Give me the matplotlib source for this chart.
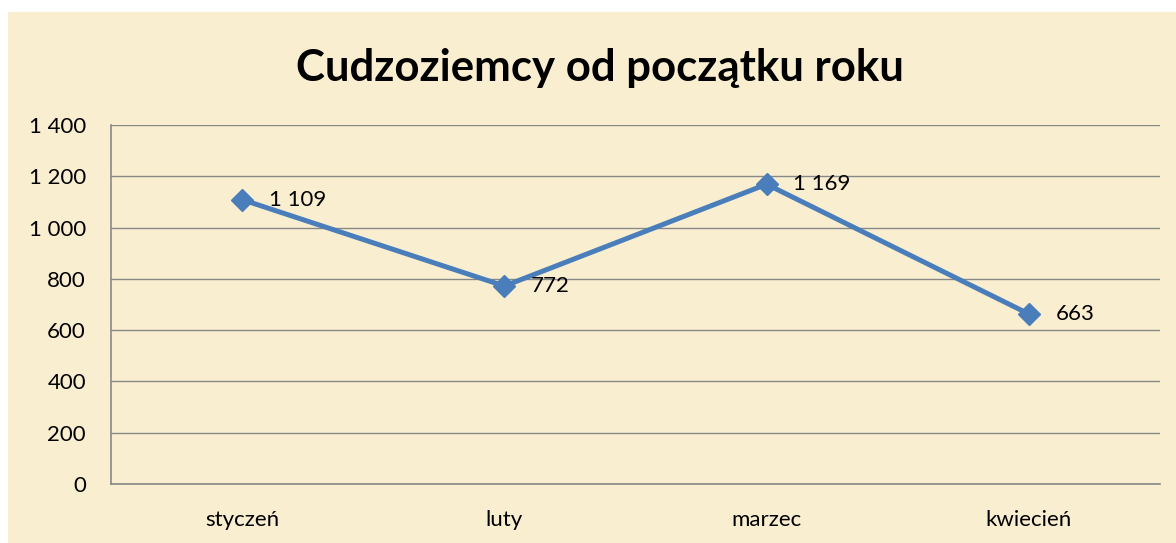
import matplotlib
matplotlib.use("Agg")
import matplotlib.pyplot as plt
from matplotlib.patches import Rectangle

months = ["styczeń", "luty", "marzec", "kwiecień"]
values = [1109, 772, 1169, 663]
yticks = [0, 200, 400, 600, 800, 1000, 1200, 1400]
title = "Cudzoziemcy od początku roku"

def fmt(v):
    return f"{v:,}".replace(",", " ")

plt.rcParams['font.family'] = ['Lato', 'DejaVu Sans']

W, H = 1176, 543
fig = plt.figure(figsize=(W / 100, H / 100), dpi=100, facecolor="white")
bg = "#FAEED1"
fig.patches.append(Rectangle((8 / W, 0), 1 - 8 / W, 1 - 12 / H, transform=fig.transFigure,
                             facecolor=bg, edgecolor="none", zorder=-10))

ax = fig.add_axes([111 / W, 1 - 484 / H, (1160 - 111) / W, (484 - 125) / H])
ax.set_facecolor("none")

x = list(range(len(months)))
ax.plot(x, values, color="#4A7EBB", linewidth=3.6, marker="D", markersize=11,
        markerfacecolor="#4A7EBB", markeredgecolor="#4A7EBB", zorder=5, clip_on=False)
for xi, v in zip(x, values):
    ax.annotate(fmt(v), (xi, v), xytext=(19, 0), textcoords="offset points",
                ha="left", va="center", fontsize=16, color="black", zorder=6)

ax.set_xlim(-0.5, len(months) - 0.5)
ax.set_ylim(0, 1400)
ax.set_yticks(yticks)
ax.set_yticklabels([fmt(t) for t in yticks])
ax.set_xticks(x)
ax.set_xticklabels(months)
ax.tick_params(axis="both", length=0, labelsize=16, colors="black")
ax.tick_params(axis="y", pad=18)
ax.tick_params(axis="x", pad=19)

ax.grid(axis="y", color="#888888", linewidth=1.0)
ax.set_axisbelow(True)
for s in ["top", "right"]:
    ax.spines[s].set_visible(False)
for s in ["left", "bottom"]:
    ax.spines[s].set_color("#888888")
    ax.spines[s].set_linewidth(1.2)

fig.text(600 / W, 1 - 68 / H, title, ha="center", va="center",
         fontsize=31.5, fontweight="bold", color="black")

fig.savefig("out.png", dpi=100, facecolor=fig.get_facecolor())
